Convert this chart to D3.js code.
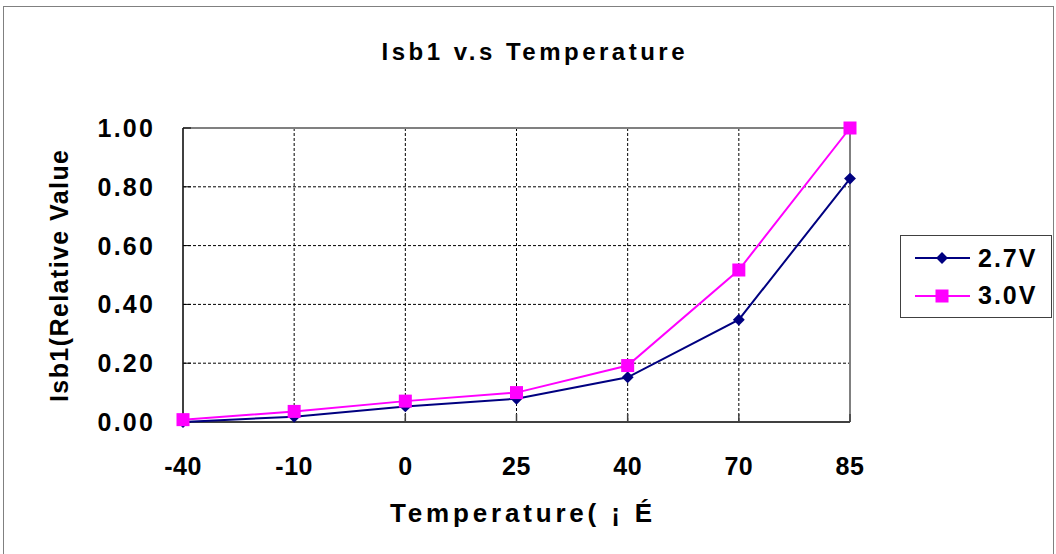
<!DOCTYPE html>
<html>
<head>
<meta charset="utf-8">
<script src="https://cdn.jsdelivr.net/npm/d3@7"></script>
<style>
body { margin: 0; background: #fff; }
text { font-family: "Liberation Sans", Arial, sans-serif; font-weight: bold; fill: #000; }
</style>
</head>
<body>
<svg class="chart" width="1056" height="554"></svg>
<script>
var temps = ["-40", "-10", "0", "25", "40", "70", "85"];
var v27 = [0.000, 0.018, 0.053, 0.079, 0.152, 0.348, 0.828];
var v30 = [0.008, 0.036, 0.071, 0.100, 0.192, 0.517, 1.000];
var yTicks = [0, 0.2, 0.4, 0.6, 0.8, 1.0];

var chart = d3.select(".chart");

// outer frame
chart.append("rect").attr("x", 3.5).attr("y", 6.5).attr("width", 1050).attr("height", 560)
  .attr("fill", "none").attr("stroke", "#808080").attr("stroke-width", 1);

var pLeft = 183, pRight = 850, pTop = 128, pBottom = 422;

var x = d3.scalePoint().domain(temps).range([pLeft, pRight]).padding(0);
var y = d3.scaleLinear().domain([0, 1]).range([pBottom, pTop]);

// grid
chart.selectAll(".hgrid").data(yTicks.slice(1, 5)).enter().append("line")
  .attr("x1", pLeft).attr("x2", pRight)
  .attr("y1", function(d) { return y(d); }).attr("y2", function(d) { return y(d); })
  .attr("stroke", "#000").attr("stroke-width", 1).attr("stroke-dasharray", "3,2");
chart.selectAll(".vgrid").data(temps.slice(1, 6)).enter().append("line")
  .attr("x1", function(d) { return x(d); }).attr("x2", function(d) { return x(d); })
  .attr("y1", pTop).attr("y2", pBottom)
  .attr("stroke", "#000").attr("stroke-width", 1).attr("stroke-dasharray", "3,2");

// plot border
chart.append("line").attr("x1", pLeft).attr("x2", pRight).attr("y1", pTop).attr("y2", pTop)
  .attr("stroke", "#808080").attr("stroke-width", 2);
chart.append("line").attr("x1", pRight).attr("x2", pRight).attr("y1", pTop).attr("y2", pBottom)
  .attr("stroke", "#808080").attr("stroke-width", 2);
chart.append("line").attr("x1", pLeft).attr("x2", pLeft).attr("y1", pTop).attr("y2", pBottom)
  .attr("stroke", "#404040").attr("stroke-width", 2);
chart.append("line").attr("x1", pLeft).attr("x2", pRight).attr("y1", pBottom).attr("y2", pBottom)
  .attr("stroke", "#404040").attr("stroke-width", 2);

// small inner ticks
chart.selectAll(".xt").data(temps).enter().append("line")
  .attr("x1", function(d) { return x(d); }).attr("x2", function(d) { return x(d); })
  .attr("y1", pBottom - 8).attr("y2", pBottom)
  .attr("stroke", "#404040").attr("stroke-width", 1.5);
chart.selectAll(".yt").data(yTicks).enter().append("line")
  .attr("x1", pLeft).attr("x2", pLeft + 8)
  .attr("y1", function(d) { return y(d); }).attr("y2", function(d) { return y(d); })
  .attr("stroke", "#000").attr("stroke-width", 1);

// tick labels
chart.selectAll(".yl").data(yTicks).enter().append("text")
  .attr("x", 155).attr("y", function(d) { return y(d) + 9; })
  .attr("text-anchor", "end").attr("font-size", 25).attr("letter-spacing", 2.2)
  .text(function(d) { return d.toFixed(2); });
chart.selectAll(".xl").data(temps).enter().append("text")
  .attr("x", function(d) { return x(d); }).attr("y", 475)
  .attr("text-anchor", "middle").attr("font-size", 25).attr("letter-spacing", 0.5)
  .text(function(d) { return d; });

// titles
chart.append("text").attr("x", 533).attr("y", 60).attr("text-anchor", "middle")
  .attr("font-size", 24).attr("textLength", 303).attr("lengthAdjust", "spacing")
  .text("Isb1 v.s Temperature");
chart.append("text").attr("x", 521).attr("y", 522).attr("text-anchor", "middle")
  .attr("font-size", 26).attr("textLength", 262).attr("lengthAdjust", "spacing")
  .text("Temperature( ¡  É");
chart.append("text").attr("transform", "translate(68,276) rotate(-90)")
  .attr("text-anchor", "middle").attr("font-size", 25)
  .attr("textLength", 252).attr("lengthAdjust", "spacing")
  .text("Isb1(Relative Value");

// series
var line = d3.line().x(function(d, i) { return x(temps[i]); }).y(function(d) { return y(d); });
chart.append("path").datum(v27).attr("d", line).attr("fill", "none")
  .attr("stroke", "#000080").attr("stroke-width", 2);
chart.append("path").datum(v30).attr("d", line).attr("fill", "none")
  .attr("stroke", "#ff00ff").attr("stroke-width", 2);

var diamond = d3.symbol().type(d3.symbolDiamond2).size(90);
chart.selectAll(".d27").data(v27).enter().append("path")
  .attr("d", diamond)
  .attr("transform", function(d, i) { return "translate(" + x(temps[i]) + "," + y(d) + ")"; })
  .attr("fill", "#000080");
chart.selectAll(".s30").data(v30).enter().append("rect")
  .attr("x", function(d, i) { return x(temps[i]) - 6.5; })
  .attr("y", function(d) { return y(d) - 6.5; })
  .attr("width", 13).attr("height", 13).attr("fill", "#ff00ff");

// legend
var lg = chart.append("g");
lg.append("rect").attr("x", 900.5).attr("y", 235.5).attr("width", 151).attr("height", 82)
  .attr("fill", "#fff").attr("stroke", "#404040").attr("stroke-width", 1);
lg.append("line").attr("x1", 915).attr("x2", 970).attr("y1", 258).attr("y2", 258)
  .attr("stroke", "#000080").attr("stroke-width", 2);
lg.append("path").attr("d", diamond).attr("transform", "translate(942,258)").attr("fill", "#000080");
lg.append("text").attr("x", 978).attr("y", 267).attr("font-size", 25).attr("letter-spacing", 2).text("2.7V");
lg.append("line").attr("x1", 915).attr("x2", 970).attr("y1", 296).attr("y2", 296)
  .attr("stroke", "#ff00ff").attr("stroke-width", 2);
lg.append("rect").attr("x", 935.5).attr("y", 289.5).attr("width", 13).attr("height", 13).attr("fill", "#ff00ff");
lg.append("text").attr("x", 978).attr("y", 304).attr("font-size", 25).attr("letter-spacing", 2).text("3.0V");
</script>
</body>
</html>
